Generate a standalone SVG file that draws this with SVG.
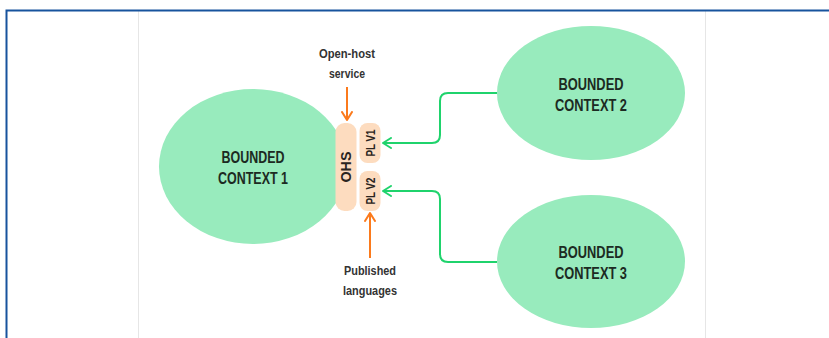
<svg xmlns="http://www.w3.org/2000/svg" width="829" height="338" viewBox="0 0 829 338">
  <style>
    .ctx { fill: #98ebbd; }
    .ctx-label { font-family: "Liberation Sans", Arial, sans-serif; font-weight: bold; font-size: 16.5px; fill: #1c2a22; text-anchor: middle; }
    .port { fill: #fddcbf; }
    .port-label { font-family: "Liberation Sans", Arial, sans-serif; font-weight: bold; fill: #2a2420; text-anchor: middle; }
    .note { font-family: "Liberation Sans", Arial, sans-serif; font-weight: bold; font-size: 12.5px; fill: #333333; text-anchor: middle; }
    .link { fill: none; stroke: #1fd36c; stroke-width: 2; }
    .pointer { fill: none; stroke: #fb7a1c; stroke-width: 2; }
  </style>
  <defs>
    <marker id="head-green" viewBox="0 0 10 12" refX="9" refY="6" markerWidth="10" markerHeight="12" markerUnits="userSpaceOnUse" orient="auto">
      <path d="M1,1 L9,6 L1,11" fill="none" stroke="#1fd36c" stroke-width="2" stroke-linecap="round" stroke-linejoin="round"/>
    </marker>
    <marker id="head-orange" viewBox="0 0 10 12" refX="9" refY="6" markerWidth="10" markerHeight="12" markerUnits="userSpaceOnUse" orient="auto">
      <path d="M1,1 L9,6 L1,11" fill="none" stroke="#fb7a1c" stroke-width="2" stroke-linecap="round" stroke-linejoin="round"/>
    </marker>
  </defs>

  <!-- page frame -->
  <rect width="829" height="338" fill="#ffffff"/>
  <g id="frame">
    <line x1="138.5" y1="11" x2="138.5" y2="338" stroke="#e6e6e6" stroke-width="1"/>
    <line x1="705.5" y1="11" x2="705.5" y2="338" stroke="#e6e6e6" stroke-width="1"/>
    <path d="M6.5,338 V10.5 H829" fill="none" stroke="#17539d" stroke-width="2"/>
  </g>

  <!-- connectors -->
  <g id="connectors">
    <path class="link" d="M497,93 H448 Q440,93 440,101 V135 Q440,143 432,143 H383" marker-end="url(#head-green)"/>
    <path class="link" d="M497,262 H448 Q440,262 440,254 V199 Q440,191 432,191 H383" marker-end="url(#head-green)"/>
    <path class="pointer" d="M347,87 V120" marker-end="url(#head-orange)"/>
    <path class="pointer" d="M370,258 V213" marker-end="url(#head-orange)"/>
  </g>

  <g id="context-1">
    <ellipse class="ctx" cx="253" cy="166.5" rx="94" ry="77.5"/>
    <text class="ctx-label" x="253" y="163" textLength="63" lengthAdjust="spacingAndGlyphs">BOUNDED</text>
    <text class="ctx-label" x="253" y="184" textLength="70" lengthAdjust="spacingAndGlyphs">CONTEXT 1</text>
  </g>

  <g id="context-2">
    <ellipse class="ctx" cx="591" cy="93" rx="94" ry="67"/>
    <text class="ctx-label" x="591" y="90" textLength="65" lengthAdjust="spacingAndGlyphs">BOUNDED</text>
    <text class="ctx-label" x="591" y="111" textLength="72" lengthAdjust="spacingAndGlyphs">CONTEXT 2</text>
  </g>

  <g id="context-3">
    <ellipse class="ctx" cx="591" cy="261.5" rx="94" ry="66.5"/>
    <text class="ctx-label" x="591" y="258" textLength="65" lengthAdjust="spacingAndGlyphs">BOUNDED</text>
    <text class="ctx-label" x="591" y="279" textLength="72" lengthAdjust="spacingAndGlyphs">CONTEXT 3</text>
  </g>

  <g id="ohs">
    <rect class="port" x="335.5" y="123" width="21" height="88" rx="9"/>
    <text class="port-label" transform="translate(351,167) rotate(-90)" font-size="15" textLength="31" lengthAdjust="spacingAndGlyphs">OHS</text>
  </g>

  <g id="pl-v1">
    <rect class="port" x="359.5" y="123" width="21" height="40" rx="8"/>
    <text class="port-label" transform="translate(374.5,143) rotate(-90)" font-size="13" textLength="27" lengthAdjust="spacingAndGlyphs">PL V1</text>
  </g>

  <g id="pl-v2">
    <rect class="port" x="359.5" y="171" width="21" height="40" rx="8"/>
    <text class="port-label" transform="translate(374.5,191) rotate(-90)" font-size="13" textLength="27" lengthAdjust="spacingAndGlyphs">PL V2</text>
  </g>

  <g id="note-open-host">
    <text class="note" x="347" y="58" textLength="56" lengthAdjust="spacingAndGlyphs">Open-host</text>
    <text class="note" x="347" y="78" textLength="36" lengthAdjust="spacingAndGlyphs">service</text>
  </g>

  <g id="note-published">
    <text class="note" x="370" y="275" textLength="52" lengthAdjust="spacingAndGlyphs">Published</text>
    <text class="note" x="370" y="295" textLength="54" lengthAdjust="spacingAndGlyphs">languages</text>
  </g>
</svg>
